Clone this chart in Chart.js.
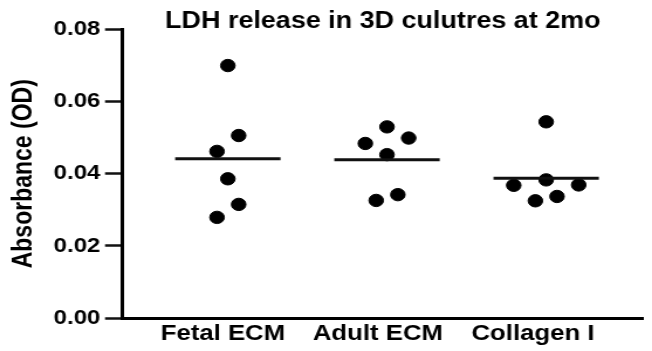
<!DOCTYPE html>
<html>
<head>
<meta charset="utf-8">
<script src="https://cdn.jsdelivr.net/npm/chart.js@4.4.1/dist/chart.umd.min.js"></script>
<style>
  html, body { margin: 0; padding: 0; background: #fff; overflow: hidden; }
  #wrap { width: 557px; height: 351px; transform: scaleX(1.1706); transform-origin: 0 0; }
  canvas { display: block; }
</style>
</head>
<body>
<div id="wrap"><canvas id="c" width="557" height="351" style="width:557px;height:351px"></canvas></div>
<script>
// ---- data ----
const titleText = 'LDH release in 3D culutres at 2mo';
const yTitle = 'Absorbance (OD)';
const categories = ['Fetal ECM', 'Adult ECM', 'Collagen I'];
const fetalECM  = [0.0700, 0.0506, 0.0462, 0.0386, 0.0315, 0.0279];
const adultECM  = [0.0530, 0.0499, 0.0484, 0.0453, 0.0342, 0.0326];
const collagenI = [0.0544, 0.0383, 0.0368, 0.0369, 0.0337, 0.0325];
// swarm column slot of each point (relative, in dot widths)
const fetalSlots    = [0, 1, -1, 0, 1, -1];
const adultSlots    = [0, 2, -2, 0, 1, -1];
const collagenSlots = [0, 0, -3, 3, 1, -1];
const yTicks = [0, 0.02, 0.04, 0.06, 0.08];

// ---- build ----
const groups = [fetalECM, adultECM, collagenI];
const slots = [fetalSlots, adultSlots, collagenSlots];
const JITTER = 0.068;
const HALF = 0.331;
const mean = a => a.reduce((s, v) => s + v, 0) / a.length;

const datasets = [];
groups.forEach((vals, i) => {
  datasets.push({
    label: categories[i],
    data: vals.map((v, k) => ({ x: i + slots[i][k] * JITTER, y: v })),
    backgroundColor: '#000',
    borderColor: '#000',
    pointRadius: 6.2,
    pointHoverRadius: 6.2,
    showLine: false,
    order: 1
  });
  const m = mean(vals);
  datasets.push({
    label: categories[i] + ' mean',
    data: [{ x: i - HALF, y: m }, { x: i + HALF, y: m }],
    showLine: true,
    borderColor: '#111',
    borderWidth: 3,
    borderCapStyle: 'butt',
    pointRadius: 0,
    order: 0
  });
});

Chart.defaults.font.family = '"Liberation Sans", Arial, Helvetica, sans-serif';
Chart.defaults.color = '#000';

new Chart(document.getElementById('c'), {
  type: 'scatter',
  data: { datasets },
  options: {
    responsive: false,
    devicePixelRatio: 1,
    animation: false,
    layout: { padding: { top: 0, left: 0, right: 0, bottom: 0 } },
    plugins: {
      legend: { display: false },
      tooltip: { enabled: false },
      title: {
        display: true,
        text: titleText,
        fullSize: false,
        color: '#000',
        font: { size: 23, weight: 'bold', lineHeight: 1 },
        padding: { top: 9.8, bottom: -3.3 }
      }
    },
    scales: {
      x: {
        type: 'linear',
        display: false,
        min: -0.665,
        max: 2.612
      },
      xl: {
        type: 'linear',
        position: 'bottom',
        min: -0.651,
        max: 2.714,
        afterBuildTicks: s => { s.ticks = categories.map((c, i) => ({ value: i })); },
        afterFit: s => { s.height = 33; },
        grid: { display: false, drawTicks: false },
        border: { display: true, color: '#000', width: 3 },
        ticks: {
          callback: v => categories[v],
          color: '#000',
          padding: 3,
          maxRotation: 0,
          autoSkip: false,
          font: { size: 22, weight: 'bold' }
        }
      },
      y: {
        type: 'linear',
        position: 'left',
        min: 0,
        max: 0.08,
        afterBuildTicks: s => { s.ticks = yTicks.map(v => ({ value: v })); },
        afterFit: s => { s.width = 104.2; },
        grid: { drawOnChartArea: false, drawTicks: true, tickLength: 14.5, tickWidth: 2.5, tickColor: '#111' },
        border: { display: true, color: '#000', width: 3 },
        title: {
          display: true,
          text: yTitle,
          color: '#000',
          font: { size: 23, weight: 'bold', lineHeight: 1 },
          padding: { top: 9.5, bottom: 0 }
        },
        ticks: {
          callback: v => v.toFixed(2),
          color: '#000',
          padding: 4,
          font: { size: 20.5, weight: 'bold' }
        }
      }
    }
  }
});
</script>
</body>
</html>
